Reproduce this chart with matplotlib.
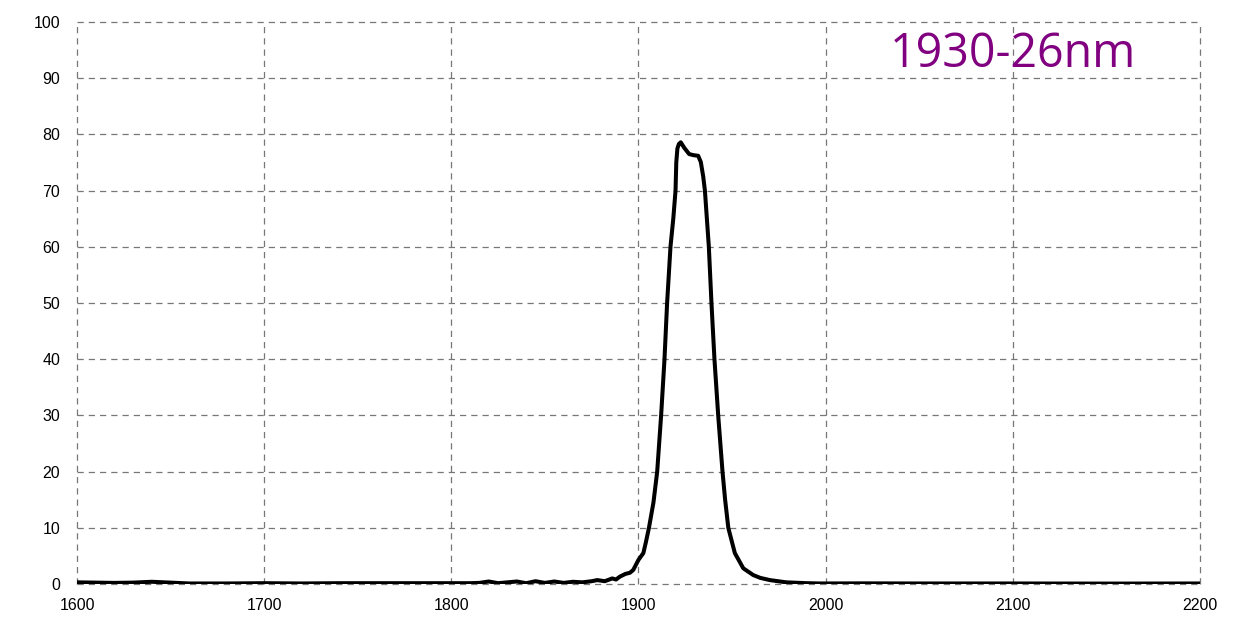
import matplotlib
matplotlib.use('Agg')
from matplotlib import pyplot as plt

# longitud de onda (nm) y transmitancia (%)
longitudes = [1600, 1610, 1620, 1630, 1640, 1650, 1660, 1680, 1700, 1720,
              1740, 1760, 1780, 1800, 1810, 1815, 1820, 1825, 1830, 1835,
              1840, 1845, 1850, 1855, 1860, 1865, 1870, 1875, 1878, 1882,
              1886, 1888, 1890, 1893, 1895.4, 1897.2, 1900, 1902.6, 1904,
              1905.6, 1908, 1910.0, 1912.1, 1913.9, 1915.3, 1917.1, 1918.6,
              1919.8, 1920.2, 1920.8, 1921.6, 1922.6, 1924.5, 1927.1, 1929.5,
              1931.9, 1933.3, 1934.6, 1935.5, 1937.6, 1939.0, 1940.6, 1942.6,
              1944.9, 1946.3, 1948, 1951.5, 1956, 1961.3, 1965, 1970.2, 1979,
              1990, 1997, 2020, 2050, 2100, 2150, 2200]
transmitancia = [0.3, 0.25, 0.2, 0.25, 0.4, 0.25, 0.1, 0.1, 0.15, 0.1,
                 0.15, 0.15, 0.15, 0.15, 0.15, 0.2, 0.45, 0.15, 0.3, 0.45,
                 0.15, 0.5, 0.2, 0.45, 0.2, 0.4, 0.3, 0.5, 0.7, 0.5,
                 1.0, 0.8, 1.3, 1.8, 2.0, 2.5, 4.3, 5.5, 7.5,
                 10.0, 14.5, 20.0, 30.0, 40.0, 50.0, 60.0, 65.0,
                 70.0, 75.0, 77.5, 78.3, 78.6, 77.6, 76.5, 76.3,
                 76.2, 75.1, 72.5, 70.0, 60.0, 50.0, 40.0, 30.0,
                 20.0, 15.0, 10.0, 5.5, 2.8, 1.6, 1.1, 0.7, 0.3,
                 0.15, 0.1, 0.12, 0.1, 0.1, 0.08, 0.1]

ticks_x = [1600, 1700, 1800, 1900, 2000, 2100, 2200]
ticks_y = list(range(0, 101, 10))
etiqueta = '1930-26nm'

fig = plt.figure(figsize=(12.34, 6.42), dpi=100)
ax = fig.add_axes([0.0624, 0.0903, 0.91, 0.8754])

ax.plot(longitudes, transmitancia, color='black', linewidth=2.9, zorder=3,
        solid_joinstyle='round')

ax.set_xlim(1600, 2200)
ax.set_ylim(0, 100)
ax.set_xticks(ticks_x)
ax.set_yticks(ticks_y)
ax.tick_params(length=0, labelsize=11.5, colors='black')
ax.tick_params(axis='y', pad=12)
ax.tick_params(axis='x', pad=10)
for lab in ax.get_xticklabels() + ax.get_yticklabels():
    lab.set_family('Liberation Sans')

for s in ax.spines.values():
    s.set_visible(False)
ax.grid(True, color='#777777', linestyle=(0, (5, 4)), linewidth=0.9)
for g in ax.get_xgridlines() + ax.get_ygridlines():
    g.set_clip_on(False)

ax.text(2034, 92.0, etiqueta, color='#800080', fontsize=33.5,
        family='Open Sans', va='baseline', ha='left')

fig.savefig('out.png', dpi=100)
